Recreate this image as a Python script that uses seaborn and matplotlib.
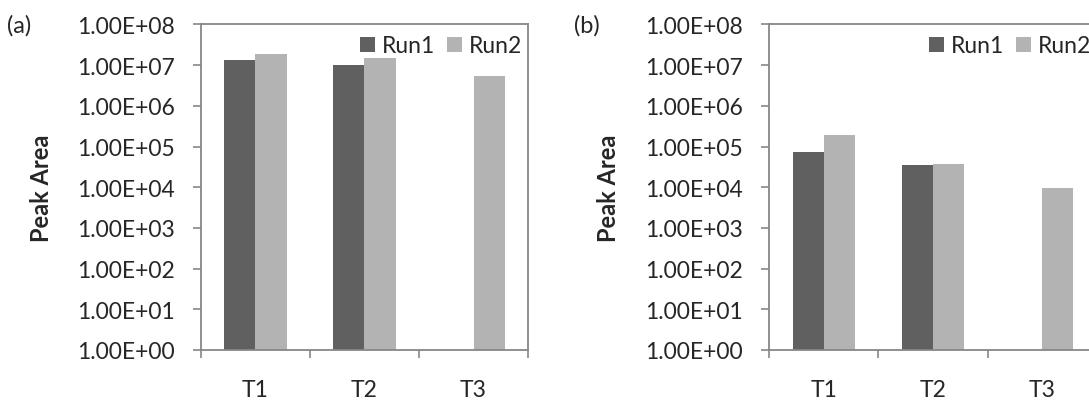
import numpy as np
import pandas as pd
import matplotlib
matplotlib.use('Agg')
import matplotlib.pyplot as plt
from matplotlib.ticker import FixedLocator, FuncFormatter, NullLocator
import seaborn as sns

# values (log scale), Run1 has no T3 bar
tests = ['T1', 'T2', 'T3']
runs = ['Run1', 'Run2']
run1_a = [1.36e7, 9.9e6, np.nan]
run2_a = [1.88e7, 1.47e7, 5.5e6]
run1_b = [7.5e4, 3.5e4, np.nan]
run2_b = [1.96e5, 3.8e4, 9.7e3]
panel_labels = ['(a)', '(b)']
ytick_vals = [1e0, 1e1, 1e2, 1e3, 1e4, 1e5, 1e6, 1e7, 1e8]
run_colors = ['#606060', '#b3b3b3']
frame_col = '#878787'

sns.set_style('white')
plt.rcParams['font.family'] = ['Lato', 'DejaVu Sans']

def to_long(r1, r2):
    rows = []
    for t, v in zip(tests, r1):
        rows.append({'test': t, 'run': 'Run1', 'value': v})
    for t, v in zip(tests, r2):
        rows.append({'test': t, 'run': 'Run2', 'value': v})
    return pd.DataFrame(rows)

fig = plt.figure(figsize=(10.89, 4.02), dpi=100)
ax_a = fig.add_axes([0.18457, 0.12687, 0.30028, 0.80970])
ax_b = fig.add_axes([0.70615, 0.12687, 0.30120, 0.80970])

fs = 16.5
for ax, (r1, r2), lab, lx in zip([ax_a, ax_b], [(run1_a, run2_a), (run1_b, run2_b)],
                                 panel_labels, [0.0065, 0.5275]):
    df = to_long(r1, r2)
    sns.barplot(data=df, x='test', y='value', hue='run', order=tests, hue_order=runs,
                palette=run_colors, width=0.57, errorbar=None, saturation=1,
                linewidth=0, ax=ax)
    ax.set_yscale('log')
    ax.set_ylim(1, 1e8)
    ax.set_xlim(-0.5, 2.5)
    ax.yaxis.set_major_locator(FixedLocator(ytick_vals))
    ax.yaxis.set_minor_locator(NullLocator())
    ax.yaxis.set_major_formatter(FuncFormatter(lambda v, p: f'{v:.2E}'))
    ax.set_xticks(range(len(tests)))
    ax.set_xticklabels(tests)
    ax.set_xticks([-0.5, 0.5, 1.5, 2.5], minor=True)
    ax.tick_params(axis='x', which='major', length=0, pad=21, labelsize=fs)
    ax.tick_params(axis='x', which='minor', length=6, width=1.2, color=frame_col, direction='out', bottom=True)
    ax.tick_params(axis='y', which='major', length=6, width=1.2, color=frame_col,
                   direction='out', left=True, pad=13, labelsize=fs)
    for s in ax.spines.values():
        s.set_visible(True)
        s.set_color(frame_col)
        s.set_linewidth(1.3)
    ax.set_xlabel('')
    ax.set_ylabel('Peak Area', fontsize=17, fontweight='bold', va='center')
    ax.yaxis.set_label_coords(-0.488, 0.5)

    handles, labels = ax.get_legend_handles_labels()
    ax.legend(handles, labels, loc='center right', bbox_to_anchor=(0.9817, 0.934),
              ncol=2, frameon=False, fontsize=fs, handlelength=0.65, handleheight=0.65,
              handletextpad=0.3, columnspacing=0.52, borderpad=0, borderaxespad=0)

    fig.text(lx, 0.935, lab, fontsize=17, ha='left', va='center')

fig.savefig('out.png', dpi=100)
